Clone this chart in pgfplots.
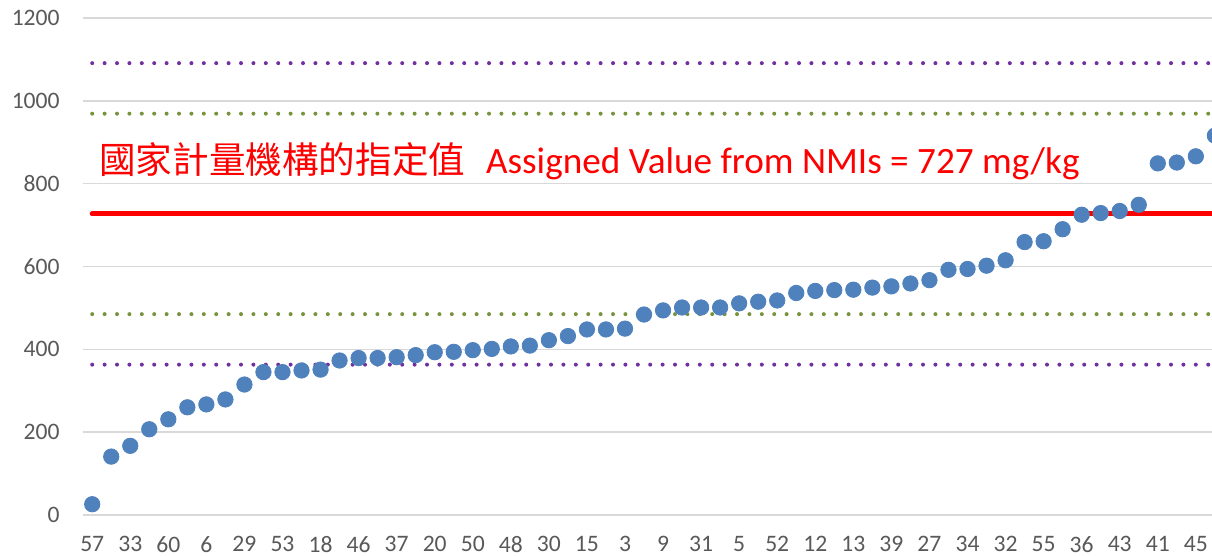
\documentclass[border=0pt]{standalone}
\usepackage{pgfplots}
\pgfplotsset{compat=1.18}
\usepackage{fontspec}
\setmainfont{Carlito}
\newfontfamily\cjk{Noto Sans CJK TC}
\definecolor{gridgray}{HTML}{D9D9D9}
\definecolor{ticktext}{HTML}{595959}
\definecolor{ptblue}{HTML}{4F81BD}
\definecolor{dpurple}{HTML}{7030A0}
\definecolor{dgreen}{HTML}{77933C}
\begin{document}
\begin{tikzpicture}
\begin{axis}[
  at={(0,0)}, anchor=south west,
  scale only axis,
  width=566.08pt, height=248.5pt,
  xmin=-0.5, xmax=59,
  ymin=0, ymax=1200,
  ytick={0,200,...,1200},
  xtick={0,2,...,58},
  xticklabels={57,33,60,6,29,53,18,46,37,20,50,48,30,15,3,9,31,5,52,12,13,39,27,34,32,55,36,43,41,45},
  major tick length=0pt,
  axis line style={draw=none},
  ymajorgrids,
  grid style={gridgray, line width=0.75pt},
  tick label style={font=\fontsize{11.8}{14}\selectfont, text=ticktext, inner sep=0pt},
  yticklabel style={anchor=east, xshift=-11.35pt},
  xticklabel style={anchor=north, yshift=-10.5pt},
  /pgf/number format/assume math mode=true,
  /pgf/number format/1000 sep={},
  clip=true, clip marker paths=false,
]
% +/- bands
\addplot[dpurple, line width=2pt, line cap=round, dash pattern=on 0pt off 6.2pt] coordinates {(0,1091) (60,1091)};
\addplot[dgreen, line width=2pt, line cap=round, dash pattern=on 0pt off 6.2pt] coordinates {(0,969) (60,969)};
\addplot[dgreen, line width=2pt, line cap=round, dash pattern=on 0pt off 6.2pt] coordinates {(0,485) (60,485)};
\addplot[dpurple, line width=2pt, line cap=round, dash pattern=on 0pt off 6.2pt] coordinates {(0,363) (60,363)};
% assigned value
\addplot[red, line width=2.5pt, line cap=round] coordinates {(0,727) (60,727)};
% results
\addplot[only marks, mark=*, mark size=3.85pt, mark options={fill=ptblue, draw=ptblue}] coordinates {
(0,26) (1,141) (2,167) (3,207) (4,231) (5,260) (6,267) (7,279) (8,315) (9,345)
(10,345) (11,349) (12,351) (13,373) (14,379) (15,379) (16,381) (17,386) (18,393) (19,394)
(20,398) (21,401) (22,407) (23,409) (24,422) (25,432) (26,448) (27,448) (28,450) (29,484)
(30,494) (31,501) (32,501) (33,501) (34,511) (35,515) (36,518) (37,536) (38,541) (39,543)
(40,544) (41,549) (42,552) (43,559) (44,567) (45,592) (46,594) (47,602) (48,615) (49,659)
(50,661) (51,690) (52,725) (53,729) (54,734) (55,749) (56,849) (57,851) (58,866) (59,916)
};
\node[anchor=base west, inner sep=0pt, text=red, font=\cjk\fontsize{18.3}{20}\selectfont] at (axis cs:0.355,825) {國家計量機構的指定值};
\node[anchor=base west, inner sep=0pt, text=red, font=\fontsize{18.6}{20}\selectfont] at (axis cs:20.68,825) {Assigned Value from NMIs = 727 mg/kg};
\end{axis}
\pgfresetboundingbox
\path[use as bounding box] (-41.35pt,-20.5pt) rectangle (564.65pt,257.5pt);
\end{tikzpicture}
\end{document}
